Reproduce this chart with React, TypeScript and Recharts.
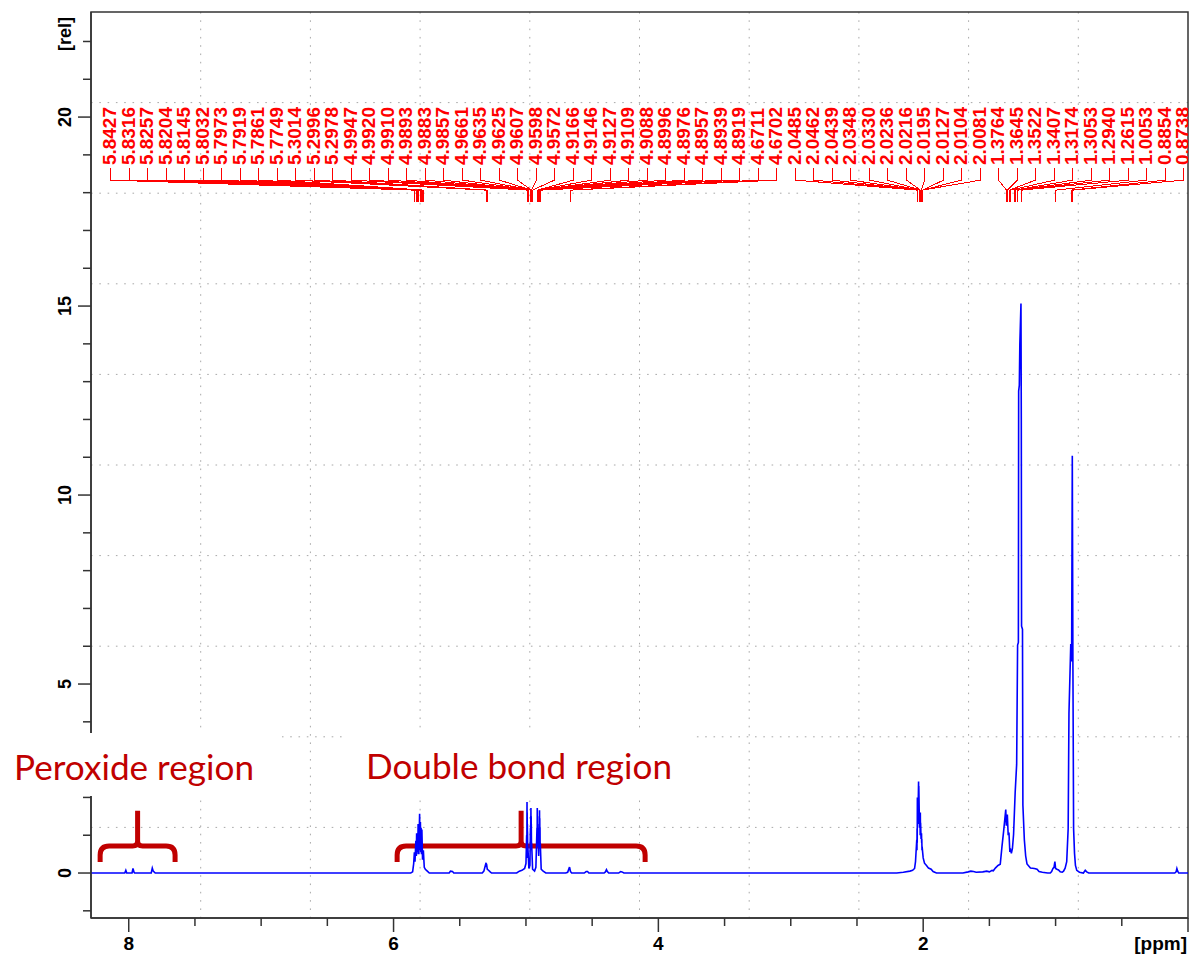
import React from 'react';
import {
  ComposedChart,
  Line,
  Scatter,
  XAxis,
  YAxis,
  CartesianGrid,
  ReferenceArea,
} from 'recharts';

const W = 1192;
const H = 958;
const Y_AXIS_W = 91;
const X_AXIS_H = 40;
const MARGIN = { top: 12, right: 4, left: 0, bottom: 0 };
const PLOT_LEFT = Y_AXIS_W + MARGIN.left;
const PLOT_W = W - PLOT_LEFT - MARGIN.right;

const X_DOMAIN: [number, number] = [0, 8.285];
const Y_DOMAIN: [number, number] = [-1.19, 22.78];

const X_TICKS = [0, 0.5, 1, 1.5, 2, 2.5, 3, 3.5, 4, 4.5, 5, 5.5, 6, 6.5, 7, 7.5, 8];
const X_LABELLED = [2, 4, 6, 8];
const Y_TICKS = [-1, 0, 1, 2, 3, 4, 5, 6, 7, 8, 9, 10, 11, 12, 13, 14, 15, 16, 17, 18, 19, 20, 21, 22];
const Y_LABELLED = [0, 5, 10, 15, 20];
const GRID_DIVISIONS = 10;

// [ppm, rel], high ppm first
const SPECTRUM_POINTS: [number, number][] = [
  [8.285, 0], [8.03, 0], [8.022, 0.07], [8.015, 0],
  [7.975, 0], [7.968, 0.12], [7.96, 0.02], [7.955, 0],
  [7.83, 0], [7.822, 0.13], [7.815, 0.05], [7.8, 0],
  [5.87, 0], [5.856, 0.03], [5.848, 0.25], [5.8427, 0.55], [5.838, 0.3], [5.8316, 0.85],
  [5.828, 0.45], [5.8257, 1.05], [5.823, 0.5], [5.8204, 1.0], [5.817, 0.55], [5.8145, 1.3],
  [5.809, 0.5], [5.8032, 1.57], [5.8, 0.6], [5.7973, 1.35], [5.794, 0.55], [5.7919, 1.2],
  [5.789, 0.5], [5.7861, 1.15], [5.781, 0.35], [5.7749, 0.6], [5.768, 0.15], [5.76, 0.1],
  [5.745, 0.05], [5.73, 0],
  [5.58, 0], [5.57, 0.05], [5.555, 0.04], [5.545, 0],
  [5.33, 0], [5.318, 0.05], [5.3014, 0.27], [5.2996, 0.22], [5.2978, 0.24], [5.292, 0.1],
  [5.285, 0.08], [5.27, 0.03], [5.26, 0],
  [5.07, 0], [5.05, 0.05], [5.03, 0.07], [5.01, 0.12], [5.0, 0.25], [4.9947, 1.0], [4.9935, 0.4],
  [4.992, 1.88], [4.9915, 1.0], [4.991, 1.6], [4.99, 0.9], [4.9893, 1.3], [4.9888, 0.9],
  [4.9883, 1.1], [4.987, 0.6], [4.9857, 0.7], [4.978, 0.12], [4.97, 0.2], [4.9661, 1.2],
  [4.965, 0.7], [4.9635, 1.5], [4.963, 1.1], [4.9625, 1.72], [4.9615, 1.1], [4.9607, 1.5],
  [4.96, 1.0], [4.9598, 1.3], [4.958, 0.6], [4.9572, 0.8], [4.95, 0.1], [4.935, 0.05],
  [4.925, 0.15], [4.9166, 1.2], [4.9155, 0.7], [4.9146, 1.72], [4.9135, 1.0], [4.9127, 1.5],
  [4.912, 0.9], [4.9109, 1.3], [4.91, 0.8], [4.9088, 1.0], [4.904, 0.45], [4.8996, 1.2],
  [4.8985, 0.8], [4.8976, 1.66], [4.8965, 1.0], [4.8957, 1.45], [4.895, 0.9], [4.8939, 1.2],
  [4.893, 0.7], [4.8919, 0.8], [4.885, 0.1], [4.87, 0.05], [4.85, 0],
  [4.7, 0], [4.685, 0.02], [4.6711, 0.16], [4.6706, 0.12], [4.6702, 0.15], [4.664, 0.04], [4.655, 0],
  [4.56, 0], [4.545, 0.04], [4.535, 0.04], [4.525, 0],
  [4.41, 0], [4.4, 0.03], [4.392, 0.09], [4.385, 0.04], [4.375, 0],
  [4.3, 0], [4.285, 0.04], [4.275, 0.03], [4.26, 0],
  [2.2, 0], [2.15, 0.02], [2.1, 0.05], [2.08, 0.07], [2.065, 0.12], [2.058, 0.3], [2.0485, 0.88],
  [2.047, 0.6], [2.0462, 1.18], [2.045, 0.8], [2.0439, 2.0], [2.04, 1.3], [2.0348, 2.42],
  [2.0339, 1.6], [2.033, 2.3], [2.028, 1.2], [2.0236, 1.4], [2.0226, 1.0], [2.0216, 1.6],
  [2.0205, 1.1], [2.0195, 1.33], [2.016, 0.9], [2.0127, 1.05], [2.0115, 0.8], [2.0104, 0.9],
  [2.009, 0.6], [2.0081, 0.7], [2.0, 0.4], [1.99, 0.26], [1.975, 0.2], [1.96, 0.13],
  [1.94, 0.1], [1.925, 0.04], [1.9, 0],
  [1.7, 0], [1.66, 0.03], [1.64, 0.05], [1.62, 0.04], [1.6, 0.02], [1.55, 0.03], [1.52, 0.05],
  [1.5, 0.03], [1.48, 0.07],
  [1.47, 0.06], [1.455, 0.13], [1.435, 0.2], [1.418, 0.23], [1.405, 0.7], [1.392, 1.12],
  [1.3764, 1.68], [1.372, 1.25], [1.3645, 1.55], [1.358, 1.0], [1.3522, 1.07], [1.346, 0.6],
  [1.3407, 0.62], [1.334, 0.52], [1.326, 0.65], [1.3174, 1.02], [1.3053, 2.13], [1.294, 2.88],
  [1.287, 6.03], [1.281, 6.1], [1.279, 12.75], [1.274, 12.9], [1.27, 14.0], [1.2615, 15.07],
  [1.259, 12.0], [1.257, 6.53], [1.25, 6.45], [1.247, 1.8], [1.236, 0.88], [1.226, 0.45],
  [1.216, 0.24], [1.19, 0.13], [1.16, 0.12], [1.14, 0.1], [1.125, 0.04], [1.1, 0.02], [1.06, 0],
  [1.04, 0], [1.03, 0.04], [1.02, 0.12], [1.012, 0.15], [1.0053, 0.3], [1.0, 0.12], [0.99, 0.1],
  [0.978, 0.08], [0.965, 0.03], [0.95, 0.02],
  [0.94, 0.05], [0.928, 0.13], [0.916, 0.3], [0.905, 1.18], [0.899, 4.22], [0.8854, 6.06],
  [0.879, 5.6], [0.8738, 11.04], [0.869, 5.37], [0.864, 1.17], [0.857, 0.52], [0.85, 0.2],
  [0.84, 0.07], [0.82, 0.02],
  [0.79, 0], [0.776, 0.07], [0.765, 0.03], [0.75, 0],
  [0.1, 0], [0.09, 0.03], [0.084, 0.12], [0.078, 0.05], [0.07, 0], [0, 0],
];

// picked peaks, in label order
const PEAK_LABELS = [
  5.8427, 5.8316, 5.8257, 5.8204, 5.8145, 5.8032, 5.7973, 5.7919, 5.7861, 5.7749,
  5.3014, 5.2996, 5.2978,
  4.9947, 4.992, 4.991, 4.9893, 4.9883, 4.9857, 4.9661, 4.9635, 4.9625, 4.9607, 4.9598, 4.9572,
  4.9166, 4.9146, 4.9127, 4.9109, 4.9088, 4.8996, 4.8976, 4.8957, 4.8939, 4.8919,
  4.6711, 4.6702,
  2.0485, 2.0462, 2.0439, 2.0348, 2.033, 2.0236, 2.0216, 2.0195, 2.0127, 2.0104, 2.0081,
  1.3764, 1.3645, 1.3522, 1.3407, 1.3174, 1.3053, 1.294, 1.2615, 1.0053, 0.8854, 0.8738,
];
const LABEL_LEVEL = 17.75;

const BRACKETS = [
  { from: 8.216, to: 7.65, low: 0.29, high: 1.65 },
  { from: 5.973, to: 4.1, low: 0.29, high: 1.65 },
];

const REGION_NOTES = [
  { text: 'Peroxide region', box: [0, 733, 282, 63], x: 14, y: 780, len: 240 },
  { text: 'Double bond region', box: [348, 734, 346, 63], x: 366, y: 779, len: 306 },
];

const spectrum = SPECTRUM_POINTS.map(([ppm, rel]) => ({ ppm, rel }));
const labelData = PEAK_LABELS.map((ppm, i) => ({ ppm, lvl: LABEL_LEVEL, i }));

const AXIS = '#333';
const RED = '#ff0000';
const DARK_RED = '#c00000';
const FONT = '"Liberation Sans", Arial, sans-serif';

function XTick(props: any) {
  const { x, y, payload } = props;
  const v = payload.value;
  const major = v % 2 === 0;
  return (
    <g>
      <line x1={x} x2={x} y1={y} y2={y + (major ? 14 : 8)} stroke={AXIS} strokeWidth={1.5} />
      {X_LABELLED.includes(v) && (
        <text x={x} y={y + 32} textAnchor="middle" fontFamily={FONT} fontWeight="bold" fontSize={19} fill="#000">
          {v}
        </text>
      )}
    </g>
  );
}

function YTick(props: any) {
  const { x, y, payload } = props;
  const v = payload.value;
  const major = v % 5 === 0;
  return (
    <g>
      <line x1={x - (major ? 13 : 8)} x2={x} y1={y} y2={y} stroke={AXIS} strokeWidth={1.5} />
      {Y_LABELLED.includes(v) && (
        <text
          x={x - 20}
          y={y}
          transform={`rotate(-90 ${x - 20} ${y})`}
          textAnchor="middle"
          fontFamily={FONT}
          fontWeight="bold"
          fontSize={18}
          fill="#000"
        >
          {v}
        </text>
      )}
    </g>
  );
}

function PeakLabel(props: any) {
  const { cx, cy, payload } = props;
  if (cx == null || cy == null) return null;
  const step = (PLOT_W - 24) / (PEAK_LABELS.length - 1);
  const sx = Math.round(PLOT_LEFT + 19 + payload.i * step) + 0.5;
  const px = Math.round(cx) + 0.5;
  const tx = sx + 6;
  const ty = cy - 37;
  return (
    <g>
      <path
        d={`M${px},${cy} V${cy - 12} L${sx},${cy - 22} V${cy - 34}`}
        stroke={RED}
        strokeWidth={1}
        fill="none"
        shapeRendering="crispEdges"
      />
      <text
        x={tx}
        y={ty}
        transform={`rotate(-90 ${tx} ${ty})`}
        fontFamily={FONT}
        fontWeight="bold"
        fontSize={19}
        fill={RED}
      >
        {payload.ppm.toFixed(4)}
      </text>
    </g>
  );
}

function Brace(props: any) {
  const { x, y, width, height } = props;
  if (x == null) return null;
  const yb = y + height;
  const yh = yb - 16;
  const xc = x + width / 2;
  const xr = x + width;
  const r = 9;
  const r2 = 5;
  const d =
    `M${x},${yb} L${x},${yh + r} Q${x},${yh} ${x + r},${yh} L${xc - r2},${yh} Q${xc},${yh} ${xc},${yh - r2} L${xc},${y}` +
    ` M${xc},${y} L${xc},${yh - r2} Q${xc},${yh} ${xc + r2},${yh} L${xr - r},${yh} Q${xr},${yh} ${xr},${yh + r} L${xr},${yb}`;
  return <path d={d} stroke={DARK_RED} strokeWidth={5} fill="none" strokeLinejoin="round" />;
}

const fractions = Array.from({ length: GRID_DIVISIONS - 1 }, (_, k) => (k + 1) / GRID_DIVISIONS);

export default function App() {
  return (
    <div style={{ position: 'absolute', left: 0, top: 0, width: W, height: H, background: '#fff' }}>
      <ComposedChart width={W} height={H} margin={MARGIN}>
        <CartesianGrid
          stroke="#a8a8a8"
          strokeDasharray="1.6 6.7"
          horizontalCoordinatesGenerator={({ offset }: any) => fractions.map((f) => offset.top + offset.height * f)}
          verticalCoordinatesGenerator={({ offset }: any) => fractions.map((f) => offset.left + offset.width * f)}
        />
        <XAxis
          dataKey="ppm"
          type="number"
          domain={X_DOMAIN}
          reversed
          allowDataOverflow
          ticks={X_TICKS}
          interval={0}
          tick={XTick}
          tickLine={false}
          tickSize={0}
          tickMargin={0}
          height={X_AXIS_H}
          axisLine={{ stroke: AXIS, strokeWidth: 1.5 }}
        />
        <YAxis
          type="number"
          domain={Y_DOMAIN}
          allowDataOverflow
          ticks={Y_TICKS}
          interval={0}
          tick={YTick}
          tickLine={false}
          tickSize={0}
          tickMargin={0}
          width={Y_AXIS_W}
          axisLine={{ stroke: AXIS, strokeWidth: 1.5 }}
        />
        <ReferenceArea
          x1={X_DOMAIN[0]}
          x2={X_DOMAIN[1]}
          y1={Y_DOMAIN[0]}
          y2={Y_DOMAIN[1]}
          fill="none"
          fillOpacity={0}
          stroke={AXIS}
          strokeWidth={1.5}
        />
        <Line
          data={spectrum}
          dataKey="rel"
          type="linear"
          stroke="#0000ff"
          strokeWidth={1.6}
          dot={false}
          isAnimationActive={false}
        />
        <Scatter data={labelData} dataKey="lvl" shape={PeakLabel} isAnimationActive={false} />
        {BRACKETS.map((b, i) => (
          <ReferenceArea key={i} x1={b.from} x2={b.to} y1={b.low} y2={b.high} shape={Brace} />
        ))}
      </ComposedChart>
      <svg width={W} height={H} style={{ position: 'absolute', left: 0, top: 0, pointerEvents: 'none' }}>
        <text
          x={71}
          y={34}
          transform="rotate(-90 71 34)"
          textAnchor="middle"
          fontFamily={FONT}
          fontWeight="bold"
          fontSize={18}
        >
          [rel]
        </text>
        <text x={1187} y={950} textAnchor="end" fontFamily={FONT} fontWeight="bold" fontSize={19}>
          [ppm]
        </text>
        {REGION_NOTES.map((n) => (
          <g key={n.text}>
            <rect x={n.box[0]} y={n.box[1]} width={n.box[2]} height={n.box[3]} fill="#fff" />
            <text
              x={n.x}
              y={n.y}
              fontFamily="Lato, 'Open Sans', sans-serif"
              fontSize={35}
              fill={DARK_RED}
              textLength={n.len}
              lengthAdjust="spacingAndGlyphs"
            >
              {n.text}
            </text>
          </g>
        ))}
      </svg>
    </div>
  );
}
